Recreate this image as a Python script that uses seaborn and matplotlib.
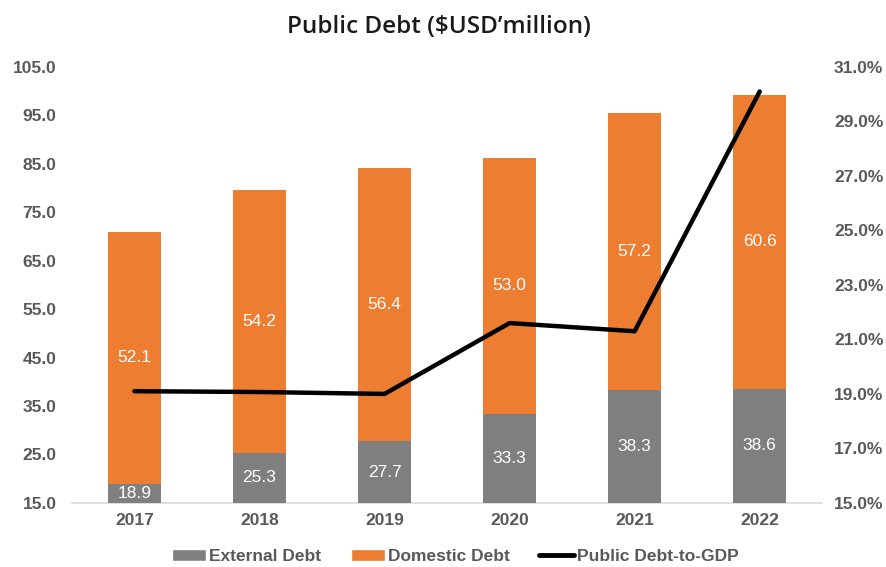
import matplotlib
matplotlib.use("Agg")
import matplotlib.pyplot as plt
from matplotlib.patches import Patch
from matplotlib.lines import Line2D
from matplotlib.ticker import FixedLocator, FuncFormatter
import seaborn as sns
import pandas as pd

years = ["2017", "2018", "2019", "2020", "2021", "2022"]
external_debt = [18.9, 25.3, 27.7, 33.3, 38.3, 38.6]
domestic_debt = [52.1, 54.2, 56.4, 53.0, 57.2, 60.6]
debt_to_gdp = [19.1, 19.07, 19.0, 21.6, 21.3, 30.1]

GREY = "#7f7f7f"
ORANGE = "#ed7d31"
TICK = "#595959"

df = pd.DataFrame({
    "year": years,
    "external": external_debt,
    "domestic": domestic_debt,
    "ratio": debt_to_gdp,
})
df["total"] = df["external"] + df["domestic"]

sns.set_theme(style="white")
plt.rcParams["font.family"] = ["Liberation Sans", "DejaVu Sans"]

fig = plt.figure(figsize=(8.87, 5.67), dpi=100)
ax = fig.add_axes([0.081, 0.113, 0.846, 0.769])

YMIN, YMAX = 15, 105
BW = 0.42
TICK_SIZE = 12.5

# stacked bars: total in orange, external portion in grey drawn over it
sns.barplot(data=df, x="year", y="total", color=ORANGE, width=BW,
            saturation=1, ax=ax, zorder=2)
sns.barplot(data=df, x="year", y="external", color=GREY, width=BW,
            saturation=1, ax=ax, zorder=3)
for p in ax.patches:
    p.set_edgecolor("none")

ax.set_ylim(YMIN, YMAX)
ax.set_xlim(-0.5, len(years) - 0.5)
ax.yaxis.set_major_locator(FixedLocator(range(15, 106, 10)))
ax.yaxis.set_major_formatter(FuncFormatter(lambda v, _: f"{v:.1f}"))
ax.set_xlabel("")
ax.set_ylabel("")

# segment labels centred on the visible part of each segment
for i, (e, d) in enumerate(zip(external_debt, domestic_debt)):
    lo = max(YMIN, 0)
    ax.text(i, (lo + e) / 2, f"{e:.1f}", ha="center", va="center",
            color="white", fontsize=12.5, zorder=5)
    ax.text(i, e + d / 2, f"{d:.1f}", ha="center", va="center",
            color="white", fontsize=12.5, zorder=5)

for s in ["top", "right", "left"]:
    ax.spines[s].set_visible(False)
ax.spines["bottom"].set_color("#d9d9d9")
ax.spines["bottom"].set_linewidth(1.2)
ax.tick_params(axis="x", length=0, labelsize=TICK_SIZE, labelcolor=TICK, pad=7)
ax.tick_params(axis="y", length=0, labelsize=TICK_SIZE, labelcolor=TICK, pad=11)
for lbl in ax.get_xticklabels() + ax.get_yticklabels():
    lbl.set_fontweight("bold")

# debt-to-GDP ratio on the secondary axis
ax2 = ax.twinx()
sns.lineplot(x=list(range(len(years))), y=debt_to_gdp, color="black",
             linewidth=3.2, ax=ax2, zorder=6)
ax2.set_ylim(15, 31)
ax2.yaxis.set_major_locator(FixedLocator(range(15, 32, 2)))
ax2.yaxis.set_major_formatter(FuncFormatter(lambda v, _: f"{v:.1f}%"))
for s in ["top", "right", "left", "bottom"]:
    ax2.spines[s].set_visible(False)
ax2.tick_params(axis="y", length=0, labelsize=TICK_SIZE, labelcolor=TICK, pad=8.5)
for lbl in ax2.get_yticklabels():
    lbl.set_fontweight("bold")
ax2.set_ylabel("")

fig.text(0.495, 0.952, "Public Debt ($USD\u2019million)", ha="center",
         va="center", fontsize=17.5, fontweight="semibold",
         family=["Open Sans", "DejaVu Sans"], color="#1a1a1a")

handles = [
    Patch(facecolor=GREY, label="External Debt"),
    Patch(facecolor=ORANGE, label="Domestic Debt"),
    Line2D([0], [0], color="black", linewidth=3.5, label="Public Debt-to-GDP"),
]
leg = fig.legend(handles=handles, loc="center", bbox_to_anchor=(0.513, 0.018),
                 ncol=3, frameon=False, handlelength=2.0, handleheight=0.7,
                 handletextpad=0.15, columnspacing=1.7,
                 prop={"size": 12.5, "weight": "bold"})
for t in leg.get_texts():
    t.set_color(TICK)

fig.savefig("out.png", dpi=100)
